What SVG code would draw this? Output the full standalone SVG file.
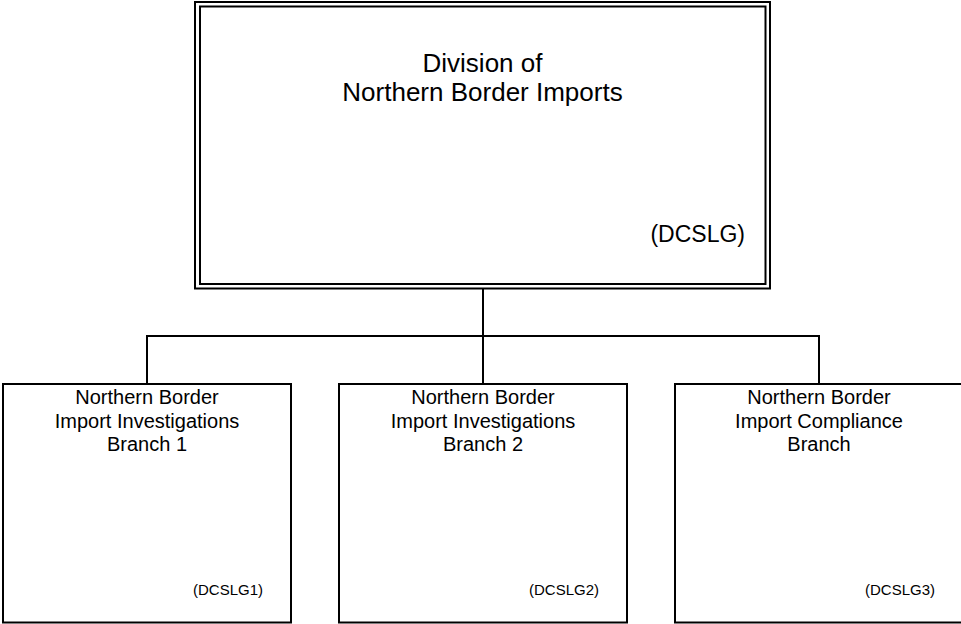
<svg xmlns="http://www.w3.org/2000/svg" width="961" height="624" viewBox="0 0 961 624">
<style>
.box{fill:#fff;stroke:#000;stroke-width:2}
.ln{fill:none;stroke:#000;stroke-width:2}
.t{font-family:"Liberation Sans",Arial,sans-serif;fill:#000}
.big{font-size:26px;text-anchor:middle}
.mid{font-size:20px;text-anchor:middle}
.code{font-size:15px;text-anchor:end}
.codeb{font-size:23px;text-anchor:end}
</style>
<rect width="961" height="624" fill="#fff"/>
<g id="connectors">
<path class="ln" d="M483 289V384M147 384V336H819V384"/>
</g>
<g id="node-division">
<rect class="box" x="195" y="2" width="575" height="286.5"/>
<rect class="box" x="200" y="6.5" width="565.5" height="277.5"/>
<text class="t big" x="482.5" y="72">Division of</text>
<text class="t big" x="482.5" y="101">Northern Border Imports</text>
<text class="t codeb" x="745" y="242">(DCSLG)</text>
</g>
<g id="node-branch1">
<rect class="box" x="3" y="384" width="288" height="238.5"/>
<text class="t mid" x="147" y="404">Northern Border</text>
<text class="t mid" x="147" y="428">Import Investigations</text>
<text class="t mid" x="147" y="451">Branch 1</text>
<text class="t code" x="263" y="595">(DCSLG1)</text>
</g>
<g id="node-branch2">
<rect class="box" x="339" y="384" width="288" height="238.5"/>
<text class="t mid" x="483" y="404">Northern Border</text>
<text class="t mid" x="483" y="428">Import Investigations</text>
<text class="t mid" x="483" y="451">Branch 2</text>
<text class="t code" x="599" y="595">(DCSLG2)</text>
</g>
<g id="node-branch3">
<rect class="box" x="675" y="384" width="288" height="238.5"/>
<text class="t mid" x="819" y="404">Northern Border</text>
<text class="t mid" x="819" y="428">Import Compliance</text>
<text class="t mid" x="819" y="451">Branch</text>
<text class="t code" x="935" y="595">(DCSLG3)</text>
</g>
</svg>
